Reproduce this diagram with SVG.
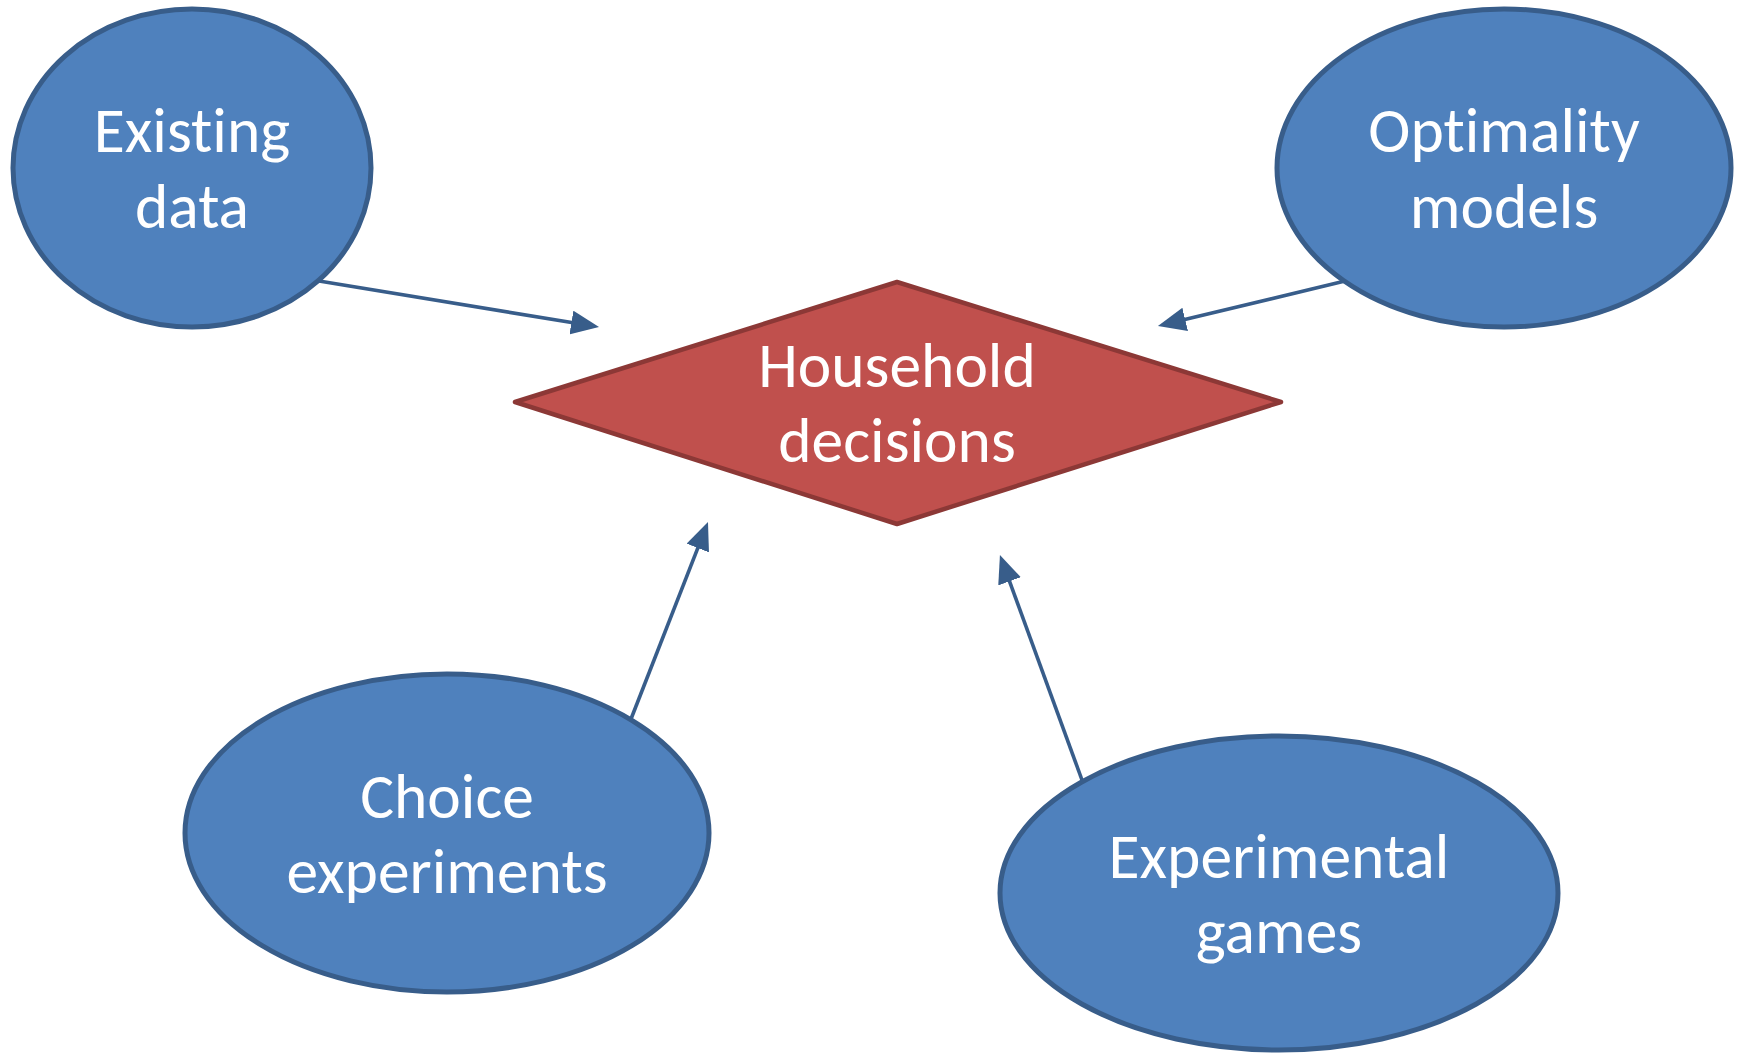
<svg xmlns="http://www.w3.org/2000/svg" width="1743" height="1053" viewBox="0 0 1743 1053">
<style>
.src{fill:#4F81BD;stroke:#385D8A;stroke-width:5}
.dec{fill:#C0504D;stroke:#8C3836;stroke-width:4.5;stroke-linejoin:round}
.lbl{font-family:Carlito,Lato,"Open Sans",sans-serif;font-size:63.5px;fill:#FFFFFF;text-anchor:middle;font-variant-ligatures:none}
.con{stroke:#385D8A;stroke-width:3.6;fill:none}
</style>
<defs>
<marker id="ah" markerUnits="userSpaceOnUse" markerWidth="28" markerHeight="24" refX="8" refY="12" orient="auto">
<path d="M0,0 L28,12 L0,24 z" fill="#385D8A"/>
</marker>
</defs>
<rect width="1743" height="1053" fill="#FFFFFF"/>
<g id="connectors">
<line class="con" x1="319" y1="281" x2="579.3" y2="323.8" marker-end="url(#ah)"/>
<line class="con" x1="1345" y1="281" x2="1177.4" y2="321.3" marker-end="url(#ah)"/>
<line class="con" x1="631" y1="719" x2="700.7" y2="540.6" marker-end="url(#ah)"/>
<line class="con" x1="1082" y1="780" x2="1006.8" y2="573.8" marker-end="url(#ah)"/>
</g>
<g id="existing-data">
<ellipse class="src" cx="192" cy="168" rx="179" ry="159"/>
<text class="lbl" x="192" y="152">Existing</text>
<text class="lbl" x="192" y="228">data</text>
</g>
<g id="optimality-models">
<ellipse class="src" cx="1504" cy="168" rx="227" ry="159"/>
<text class="lbl" x="1504" y="152">Optimality</text>
<text class="lbl" x="1504" y="228">models</text>
</g>
<g id="household-decisions">
<polygon class="dec" points="515,402 897,282 1281,402 897,524"/>
<text class="lbl" x="897" y="387">Household</text>
<text class="lbl" x="897" y="462">decisions</text>
</g>
<g id="choice-experiments">
<ellipse class="src" cx="447" cy="833" rx="262" ry="159"/>
<text class="lbl" x="447" y="818">Choice</text>
<text class="lbl" x="447" y="893">experiments</text>
</g>
<g id="experimental-games">
<ellipse class="src" cx="1279" cy="893" rx="279" ry="157"/>
<text class="lbl" x="1279" y="878">Experimental</text>
<text class="lbl" x="1279" y="953">games</text>
</g>
</svg>
